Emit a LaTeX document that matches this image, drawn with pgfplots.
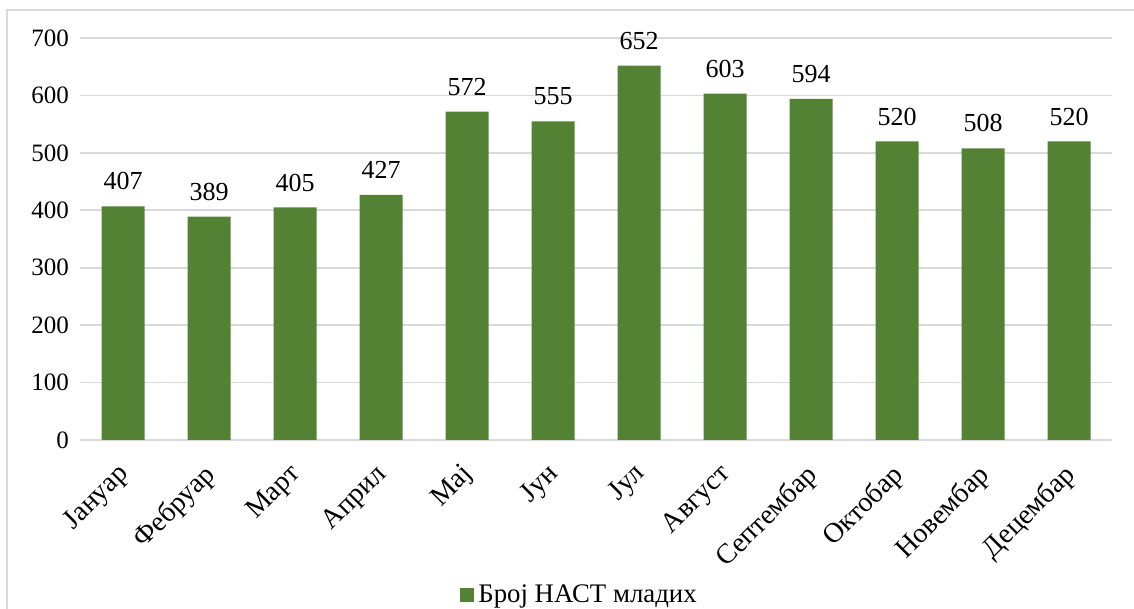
\documentclass[border=0pt]{standalone}
\usepackage{fontspec}
\setmainfont{Liberation Serif}
\usepackage{pgfplots}
\pgfplotsset{compat=1.18}
\definecolor{barg}{HTML}{548235}
\definecolor{gridg}{HTML}{D9D9D9}

\begin{document}
\begin{tikzpicture}
\useasboundingbox (0pt,0pt) rectangle (567pt,304.5pt);
\draw[gridg, line width=1pt] (3.5pt,0pt) -- (3.5pt,299.5pt) -- (567pt,299.5pt);
\begin{axis}[
    at={(40pt,84.5pt)}, anchor=south west,
    scale only axis, width=516pt, height=201pt,
    ybar, bar width=21.5pt, bar shift=0pt,
    xmin=-0.5, xmax=11.5, ymin=0, ymax=700,
    ytick={0,100,...,700},
    xtick=data,
    xticklabels={Јануар,Фебруар,Март,Април,Мај,Јун,Јул,Август,Септембар,Октобар,Новембар,Децембар},
    axis line style={draw=none},
    tick style={draw=none},
    ymajorgrids, grid style={gridg, line width=0.8pt},
    font=\fontsize{12.5}{15}\selectfont,
    /pgf/number format/assume math mode=true,
    yticklabel style={xshift=-2pt},
    xticklabel style={font=\fontsize{14}{16}\selectfont, inner sep=0pt,
        xshift=-3.5pt, yshift=-6.5pt, rotate=45, anchor=north east},
    nodes near coords,
    every node near coord/.append style={font=\fontsize{13}{15}\selectfont, yshift=4.5pt},
    legend style={at={(0.485,-0.385)}, anchor=center, draw=none, font=\fontsize{13.4}{15}\selectfont},
    legend image code/.code={\fill[barg] (0pt,-3.5pt) rectangle (7pt,3.5pt);},
]
\addplot[fill=barg, draw=none] coordinates {
    (0,407) (1,389) (2,405) (3,427) (4,572) (5,555)
    (6,652) (7,603) (8,594) (9,520) (10,508) (11,520)
};
\addlegendentry{Број НАСТ младих}
\end{axis}
\end{tikzpicture}
\end{document}
